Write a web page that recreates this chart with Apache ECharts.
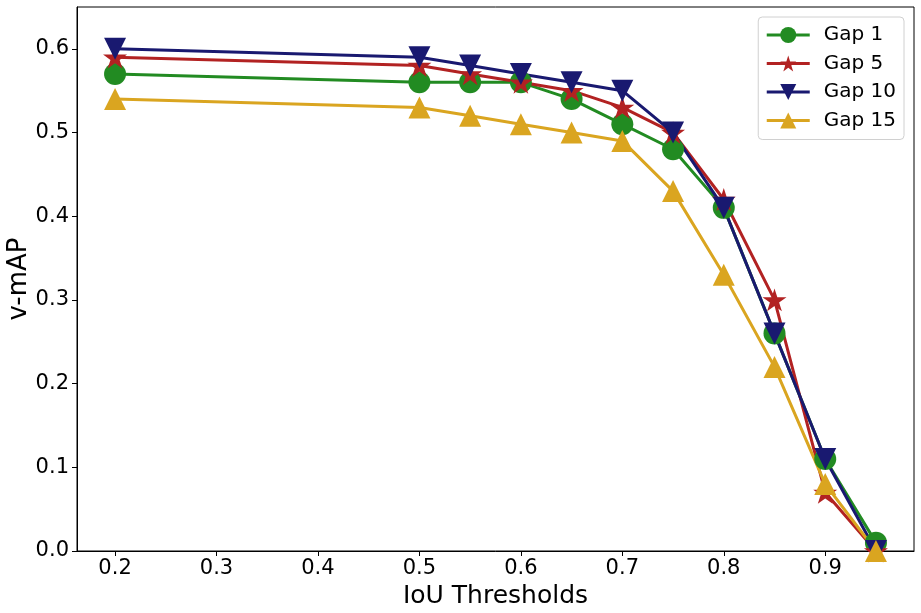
<!DOCTYPE html>
<html><head><meta charset="utf-8">
<script src="https://cdn.jsdelivr.net/npm/echarts@6/dist/echarts.min.js"></script>
<style>html,body{margin:0;padding:0;background:#fff}#c{width:921px;height:613px}</style>
</head><body><div id="c"></div>
<script>
const thresholds = [0.2, 0.5, 0.55, 0.6, 0.65, 0.7, 0.75, 0.8, 0.85, 0.9, 0.95];
const gap1  = [0.57, 0.56, 0.56, 0.56, 0.54, 0.51, 0.48, 0.41, 0.26, 0.11, 0.01];
const gap5  = [0.59, 0.58, 0.57, 0.56, 0.55, 0.53, 0.50, 0.42, 0.30, 0.07, 0.00];
const gap10 = [0.60, 0.59, 0.58, 0.57, 0.56, 0.55, 0.50, 0.41, 0.26, 0.11, 0.00];
const gap15 = [0.54, 0.53, 0.52, 0.51, 0.50, 0.49, 0.43, 0.33, 0.22, 0.08, 0.00];
const xTicks = [0.2, 0.3, 0.4, 0.5, 0.6, 0.7, 0.8, 0.9];
const yTicks = [0.0, 0.1, 0.2, 0.3, 0.4, 0.5, 0.6];
const seriesNames = ['Gap 1', 'Gap 5', 'Gap 10', 'Gap 15'];

const STAR = 'path://M50,0 L61.2,34.5 L97.6,34.5 L68.2,55.9 L79.4,90.5 L50,69.1 L20.6,90.5 L31.8,55.9 L2.4,34.5 L38.8,34.5 Z';
const font = 'DejaVu Sans';
function mk(name, data, color, symbol, rotate, size) {
  return {
    name, type: 'line', data: thresholds.map((x, i) => [x, data[i]]),
    symbol, symbolRotate: rotate, symbolSize: size, symbolKeepAspect: true, showSymbol: true,
    lineStyle: { color, width: 3 }, itemStyle: { color, opacity: 1 },
    emphasis: { disabled: true }, animation: false
  };
}
const chart = echarts.init(document.getElementById('c'), null, { renderer: 'canvas' });
chart.setOption({
  backgroundColor: '#fff',
  animation: false,
  grid: { left: 77, right: 7, top: 7, bottom: 62, containLabel: false, outerBoundsMode: 'none',
    show: true, borderColor: '#000', borderWidth: 1 },
  xAxis: {
    type: 'value', min: 0.1625, max: 0.9875,
    name: 'IoU Thresholds', nameLocation: 'middle', nameGap: 29,
    nameTextStyle: { fontFamily: font, fontSize: 25, color: '#000' },
    axisLine: { show: true, lineStyle: { color: '#000', width: 1 } },
    axisTick: { show: true, inside: false, length: 5, customValues: xTicks, lineStyle: { color: '#000' } },
    axisLabel: { customValues: xTicks, fontFamily: font, fontSize: 21, color: '#000', margin: 7,
      formatter: v => v.toFixed(1) },
    splitLine: { show: false }
  },
  yAxis: {
    type: 'value', min: 0, max: 0.65,
    name: 'v-mAP', nameLocation: 'middle', nameGap: 45, nameRotate: 90, nameMoveOverlap: false,
    nameTextStyle: { fontFamily: font, fontSize: 26, color: '#000' },
    axisLine: { show: true, lineStyle: { color: '#000', width: 1 } },
    axisTick: { show: true, inside: false, length: 5, customValues: yTicks, lineStyle: { color: '#000' } },
    axisLabel: { customValues: yTicks, fontFamily: font, fontSize: 21, color: '#000', margin: 8,
      formatter: v => v.toFixed(1) },
    splitLine: { show: false }
  },
  legend: {
    data: seriesNames, orient: 'vertical', right: 17, top: 17,
    backgroundColor: '#fff', borderColor: '#d0d0d0', borderWidth: 1, borderRadius: 4,
    padding: [8, 8, 9, 7], itemGap: 8.5, itemWidth: 43, itemHeight: 20,
    lineStyle: { width: 3 },
    textStyle: { fontFamily: font, fontSize: 20, color: '#000', padding: [0, 0, 0, 9] }
  },
  series: [
    mk('Gap 1', gap1, '#228b22', 'circle', 0, 22),
    mk('Gap 5', gap5, '#b22222', STAR, 0, 24),
    mk('Gap 10', gap10, '#191970', 'triangle', 180, 22),
    mk('Gap 15', gap15, '#daa520', 'triangle', 0, 22)
  ]
});
</script></body></html>
